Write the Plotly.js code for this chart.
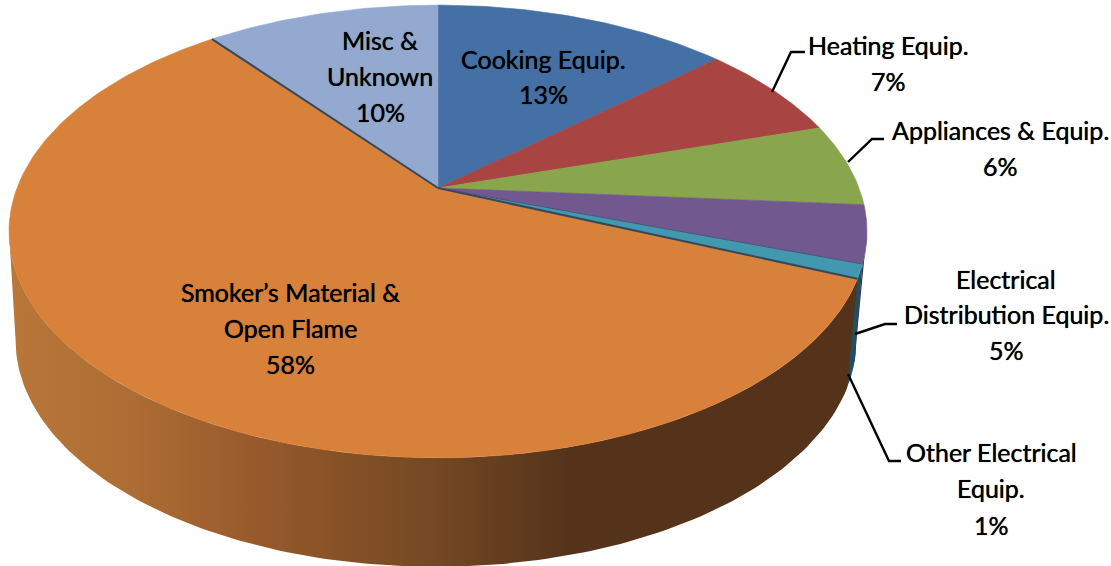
<!DOCTYPE html>
<html><head><meta charset="utf-8">
<script src="https://cdn.plot.ly/plotly-3.0.1.min.js"></script>
<style>html,body{margin:0;padding:0;background:#fff}#c{width:1111px;height:566px}</style>
</head><body><div id="c"></div>
<script>
const categories=["Cooking Equip.","Heating Equip.","Appliances & Equip.","Electrical Distribution Equip.","Other Electrical Equip.","Smoker's Material & Open Flame","Misc & Unknown"];
const values=[13.4,6.9,5.9,4.1,1.0,58.1,10.6];
const topColors=["#4470A6","#A84442","#89A54E","#71588F","#4198AF","#D8813B","#93A9CF"];
const labelLines=["Misc &","Unknown","10%","Cooking Equip.","13%","Heating Equip.","7%","Appliances & Equip.","6%","Electrical","Distribution Equip.","5%","Other Electrical","Equip.","1%","Smoker’s Material &","Open Flame","58%"];
const labelX=[380,380,380,543,543,888,888,1000,1000,1006,1006,1006,991,991,991,290,290,290];
const labelY=[40,76,112,59,94,45,81,130,166,279,314,350,452,488,525,292,328,364];
const leaders=[
 {x:[772,791,805],y:[92,52,52]},
 {x:[848,872,884],y:[162,139,139]},
 {x:[855,885,897],y:[334,324,324]},
 {x:[848,889,901],y:[374,461,461]}
];
// projection of the pie disc onto the page
const K=0.192,A=421,B=218;
const top_={cx:438,cy:188,sx:1};
const bot_={cx:436,cy:297,sx:0.98};
function proj(p,deg){const t=deg*Math.PI/180,u=Math.sin(t),v=-Math.cos(t),w=1-K*v;
  return [p.cx+p.sx*A*u/w,p.cy+B*v/w];}
function arc(p,a,b){const n=Math.max(2,Math.ceil(Math.abs(b-a)));const o=[];
  for(let i=0;i<=n;i++)o.push(proj(p,a+(b-a)*i/n));return o;}
const total=values.reduce((s,v)=>s+v,0);
let cum=0;const starts=[],ends=[];
values.forEach(v=>{starts.push(cum/total*360);cum+=v;ends.push(cum/total*360);});
const traces=[];
function poly(pts,extra){return Object.assign({type:'scatter',mode:'lines',x:pts.map(p=>p[0]),y:pts.map(p=>p[1]),
  fill:'toself',line:{width:0},hoverinfo:'skip',showlegend:false},extra);}
const LEFT=259,RIGHT=101;
// side wall: purple, teal, orange
traces.push(poly(arc(top_,RIGHT,ends[3]).concat(arc(bot_,ends[3],RIGHT)),{fillcolor:'#3B2C55'}));
traces.push(poly(arc(top_,starts[4],ends[4]+2).concat(arc(bot_,ends[4]+2,starts[4]-3)),{fillcolor:'#1F4F60'}));
traces.push(poly(arc(top_,starts[5],LEFT).concat(arc(bot_,LEFT,starts[5])),{
  fillgradient:{type:'horizontal',colorscale:[[0,'#B97739'],[0.15,'#AC6C33'],[0.3,'#96592B'],[0.5,'#744823'],[0.66,'#55331A'],[1,'#55331A']]},
  fillcolor:'#8a5528'}));
// top face slices
values.forEach((v,i)=>{
  const pts=[[top_.cx,top_.cy]].concat(arc(top_,starts[i],ends[i]),[[top_.cx,top_.cy]]);
  traces.push(poly(pts,{fillcolor:topColors[i],name:categories[i],line:{width:0.6,color:topColors[i]}}));
});
// dark slice edges
[starts[5],ends[5]].forEach(d=>{const e=proj(top_,d);
  traces.push({type:'scatter',mode:'lines',x:[top_.cx,e[0]],y:[top_.cy,e[1]],line:{color:'#36495C',width:2},hoverinfo:'skip',showlegend:false});});
const e2=proj(top_,ends[3]);
traces.push({type:'scatter',mode:'lines',x:[top_.cx,e2[0]],y:[top_.cy,e2[1]],line:{color:'#4A4368',width:0.8},hoverinfo:'skip',showlegend:false});
leaders.forEach(l=>traces.push({type:'scatter',mode:'lines',x:l.x,y:l.y,line:{color:'#000',width:2.4},hoverinfo:'skip',showlegend:false}));
const annotations=labelLines.map((t,i)=>({x:labelX[i],y:labelY[i],xref:'x',yref:'y',text:t,showarrow:false,xanchor:'center',yanchor:'middle',
  font:{family:'Lato, sans-serif',size:25,color:'#000',shadow:'0 0 0.7px #000'}}));
Plotly.newPlot('c',traces,{width:1111,height:566,margin:{l:0,r:0,t:0,b:0},paper_bgcolor:'#fff',plot_bgcolor:'#fff',showlegend:false,
  xaxis:{range:[0,1111],visible:false,fixedrange:true},
  yaxis:{range:[566,0],visible:false,fixedrange:true},annotations},{displayModeBar:false,staticPlot:true});
</script></body></html>
